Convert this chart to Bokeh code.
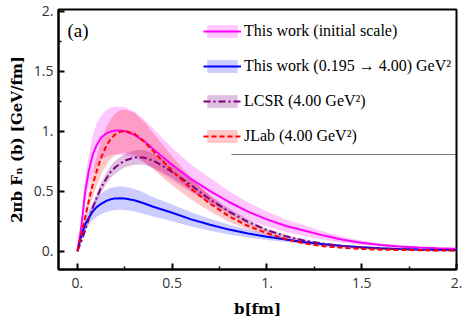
from bokeh.plotting import figure
from bokeh.models import Range1d, FixedTicker, Legend, LegendItem, BoxAnnotation, Label
from bokeh.embed import file_html
from bokeh.resources import INLINE

# ---------------- data ----------------
b = [0, 0.02, 0.04, 0.06, 0.08, 0.1, 0.125, 0.15, 0.175, 0.2, 0.225, 0.25, 0.3, 0.35,
     0.4, 0.45, 0.5, 0.6, 0.7, 0.8, 0.9, 1.0, 1.1, 1.2, 1.3, 1.4, 1.5, 1.6, 1.7, 1.8, 1.9, 2.0]

init_mid = [0, 0.20, 0.49, 0.67, 0.80, 0.88, 0.945, 0.98, 0.997, 1.005, 1.005, 1.0, 0.97, 0.92,
            0.85, 0.785, 0.72, 0.60, 0.50, 0.41, 0.33, 0.265, 0.21, 0.17, 0.13, 0.095, 0.07,
            0.052, 0.04, 0.031, 0.025, 0.02]
init_lo = [0, 0.16, 0.39, 0.54, 0.64, 0.70, 0.76, 0.785, 0.80, 0.805, 0.805, 0.80, 0.78, 0.74,
           0.69, 0.64, 0.59, 0.49, 0.40, 0.33, 0.26, 0.205, 0.16, 0.125, 0.095, 0.07, 0.052,
           0.04, 0.031, 0.025, 0.02, 0.017]
init_hi = [0, 0.24, 0.59, 0.80, 0.96, 1.06, 1.13, 1.175, 1.195, 1.205, 1.205, 1.20, 1.165, 1.10,
           1.02, 0.94, 0.86, 0.72, 0.61, 0.50, 0.405, 0.33, 0.265, 0.215, 0.165, 0.12, 0.09,
           0.065, 0.05, 0.038, 0.03, 0.024]

evo_mid = [0, 0.13, 0.22, 0.28, 0.33, 0.365, 0.395, 0.418, 0.432, 0.44, 0.442, 0.44, 0.425, 0.40,
           0.37, 0.345, 0.32, 0.265, 0.22, 0.18, 0.148, 0.12, 0.097, 0.075, 0.058, 0.044, 0.033,
           0.025, 0.019, 0.015, 0.012, 0.01]
evo_lo = [0, 0.10, 0.17, 0.22, 0.26, 0.285, 0.31, 0.325, 0.337, 0.343, 0.345, 0.343, 0.33, 0.31,
          0.29, 0.27, 0.25, 0.205, 0.17, 0.14, 0.115, 0.094, 0.076, 0.059, 0.045, 0.034, 0.026,
          0.019, 0.015, 0.012, 0.009, 0.008]
evo_hi = [0, 0.16, 0.27, 0.34, 0.40, 0.445, 0.48, 0.51, 0.527, 0.537, 0.539, 0.537, 0.52, 0.49,
          0.45, 0.42, 0.39, 0.325, 0.27, 0.22, 0.18, 0.146, 0.118, 0.091, 0.071, 0.054, 0.04,
          0.031, 0.023, 0.018, 0.015, 0.012]

lcsr_mid = [0, 0.08, 0.17, 0.27, 0.36, 0.44, 0.53, 0.60, 0.66, 0.70, 0.73, 0.755, 0.78, 0.78,
            0.755, 0.71, 0.66, 0.55, 0.43, 0.33, 0.245, 0.175, 0.125, 0.088, 0.062, 0.044, 0.031,
            0.022, 0.016, 0.011, 0.008, 0.006]
lcsr_lo = [0, 0.07, 0.155, 0.245, 0.33, 0.405, 0.49, 0.555, 0.61, 0.645, 0.675, 0.70, 0.72, 0.72,
           0.695, 0.655, 0.61, 0.505, 0.395, 0.305, 0.225, 0.161, 0.115, 0.081, 0.057, 0.04,
           0.029, 0.02, 0.015, 0.01, 0.007, 0.006]
lcsr_hi = [0, 0.09, 0.185, 0.295, 0.39, 0.475, 0.57, 0.645, 0.71, 0.755, 0.785, 0.81, 0.84, 0.845,
           0.815, 0.77, 0.715, 0.595, 0.465, 0.355, 0.265, 0.19, 0.135, 0.095, 0.067, 0.048,
           0.033, 0.024, 0.017, 0.012, 0.009, 0.007]

jlab_mid = [0, 0.14, 0.28, 0.42, 0.55, 0.66, 0.78, 0.87, 0.935, 0.975, 0.995, 1.0, 0.98, 0.915,
            0.835, 0.75, 0.67, 0.52, 0.395, 0.29, 0.21, 0.15, 0.10, 0.065, 0.042, 0.028, 0.019,
            0.013, 0.01, 0.008, 0.006, 0.005]
jlab_lo = [0, 0.115, 0.23, 0.345, 0.45, 0.54, 0.64, 0.715, 0.77, 0.80, 0.815, 0.82, 0.805, 0.75,
           0.685, 0.615, 0.55, 0.43, 0.33, 0.245, 0.18, 0.13, 0.088, 0.058, 0.038, 0.025, 0.017,
           0.012, 0.009, 0.007, 0.005, 0.004]
jlab_hi = [0, 0.165, 0.33, 0.495, 0.65, 0.78, 0.92, 1.025, 1.10, 1.15, 1.175, 1.18, 1.155, 1.08,
           0.985, 0.885, 0.79, 0.61, 0.46, 0.335, 0.24, 0.17, 0.112, 0.072, 0.046, 0.031, 0.021,
           0.014, 0.011, 0.009, 0.007, 0.006]

labels = ["This work (initial scale)",
          "This work (0.195 \u2192 4.00) GeV\u00b2",
          "LCSR (4.00 GeV\u00b2)",
          "JLab (4.00 GeV\u00b2)"]

major_ticks = [0, 0.5, 1.0, 1.5, 2.0]
minor_ticks = [0.25, 0.75, 1.25, 1.75]
tick_text = {0: "0.", 0.5: "0.5", 1.0: "1.", 1.5: "1.5", 2.0: "2."}

# ---------------- figure ----------------
p = figure(width=463, height=327, output_backend="svg", toolbar_location=None,
           x_range=Range1d(-0.1, 2.0), y_range=Range1d(-0.1525, 2.014),
           min_border_left=58, min_border_right=7, min_border_top=9, min_border_bottom=58,
           background_fill_color="white", border_fill_color="white")
p.grid.visible = False
p.outline_line_color = "black"
p.outline_line_width = 2

for ax in (p.xaxis[0], p.yaxis[0]):
    ax.ticker = FixedTicker(ticks=major_ticks, minor_ticks=minor_ticks)
    ax.major_label_overrides = tick_text
    ax.axis_line_width = 2
    ax.axis_line_color = "black"
    ax.major_tick_in = 6
    ax.major_tick_out = 0
    ax.minor_tick_in = 3
    ax.minor_tick_out = 0
    ax.major_tick_line_width = 2
    ax.minor_tick_line_width = 1.5
    ax.major_label_text_font = "Open Sans"
    ax.major_label_text_font_size = "14px"
    ax.major_label_text_color = "#333333"
    ax.axis_label_text_font = "DejaVu Serif"
    ax.axis_label_text_font_style = "bold"
    ax.axis_label_text_font_size = "15px"
    ax.axis_label_text_color = "black"

p.xaxis.major_label_standoff = 8
p.yaxis.major_label_standoff = 5
p.xaxis.axis_label = "b[fm]"
p.yaxis.axis_label = "2\u03c0b F\u2099 (b) [GeV/fm]"
p.xaxis.axis_label_standoff = 9
p.yaxis.axis_label_standoff = 5

MAG, BLU, PUR, RED = "#ff00ff", "#0000ff", "#800080", "#ff0000"

band_init = p.varea(x=b, y1=init_lo, y2=init_hi, fill_color=MAG, fill_alpha=0.22)
band_evo = p.varea(x=b, y1=evo_lo, y2=evo_hi, fill_color=BLU, fill_alpha=0.2)
band_lcsr = p.varea(x=b, y1=lcsr_lo, y2=lcsr_hi, fill_color=PUR, fill_alpha=0.25)
band_jlab = p.varea(x=b, y1=jlab_lo, y2=jlab_hi, fill_color=RED, fill_alpha=0.22)

line_init = p.line(b, init_mid, line_color=MAG, line_width=2)
line_evo = p.line(b, evo_mid, line_color=BLU, line_width=2)
line_lcsr = p.line(b, lcsr_mid, line_color=PUR, line_width=2, line_dash="7 3 2 3")
line_jlab = p.line(b, jlab_mid, line_color=RED, line_width=2, line_dash="5 3")

legend = Legend(items=[
    LegendItem(label=labels[0], renderers=[band_init, line_init]),
    LegendItem(label=labels[1], renderers=[band_evo, line_evo]),
    LegendItem(label=labels[2], renderers=[band_lcsr, line_lcsr]),
    LegendItem(label=labels[3], renderers=[band_jlab, line_jlab]),
], location=(145, 124), orientation="vertical", glyph_width=38, glyph_height=16,
    label_height=18, spacing=17, padding=0, margin=0, border_line_color=None,
    background_fill_alpha=0, label_text_font="Liberation Serif",
    label_text_font_size="16px", label_standoff=3, label_text_color="black")
p.add_layout(legend)

p.add_layout(BoxAnnotation(left=173, right=398, top=115, bottom=115,
                           left_units="screen", right_units="screen",
                           top_units="screen", bottom_units="screen",
                           fill_alpha=0, line_color="black", line_width=1))

p.add_layout(Label(x=9, y=239, x_units="screen", y_units="screen", text="(a)",
                   text_font="Liberation Serif", text_font_size="19px",
                   text_baseline="middle", text_color="black"))

open("out.html", "w").write(file_html(p, INLINE))
